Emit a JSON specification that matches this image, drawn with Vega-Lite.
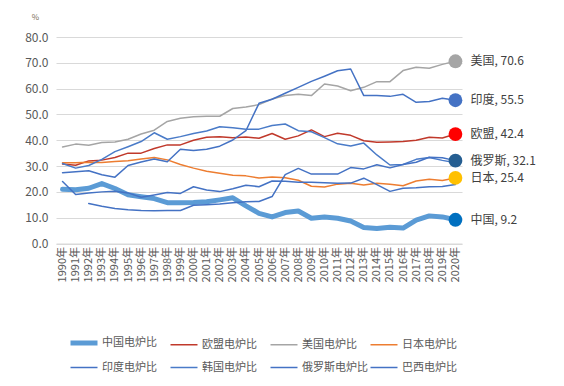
{
  "$schema": "https://vega.github.io/schema/vega-lite/v6.json",
  "autosize": {"type": "none"},
  "width": 406,
  "height": 206.5,
  "padding": {"left": 56, "top": 37, "right": 102, "bottom": 142.5},
  "background": "white",
  "config": {
    "font": "Noto Sans CJK SC",
    "view": {"stroke": null},
    "legend": {
      "labelFont": "Noto Sans CJK SC",
      "labelFontSize": 11,
      "labelColor": "#595959",
      "symbolSize": 729,
      "symbolType": "stroke",
      "labelOffset": 2,
      "columnPadding": -20,
      "rowPadding": -9,
      "gridAlign": "all",
      "columns": 4,
      "direction": "horizontal",
      "orient": "none",
      "legendX": 12,
      "legendY": 290,
      "title": null
    }
  },
  "datasets": {
    "lines": [
      {"year":"1990年","series":"中国电炉比","v":21.0},{"year":"1991年","series":"中国电炉比","v":20.8},{"year":"1992年","series":"中国电炉比","v":21.4},{"year":"1993年","series":"中国电炉比","v":23.2},{"year":"1994年","series":"中国电炉比","v":21.3},{"year":"1995年","series":"中国电炉比","v":18.9},{"year":"1996年","series":"中国电炉比","v":18.1},{"year":"1997年","series":"中国电炉比","v":17.4},{"year":"1998年","series":"中国电炉比","v":15.8},{"year":"1999年","series":"中国电炉比","v":15.8},{"year":"2000年","series":"中国电炉比","v":15.9},{"year":"2001年","series":"中国电炉比","v":16.2},{"year":"2002年","series":"中国电炉比","v":16.9},{"year":"2003年","series":"中国电炉比","v":17.7},{"year":"2004年","series":"中国电炉比","v":14.6},{"year":"2005年","series":"中国电炉比","v":11.7},{"year":"2006年","series":"中国电炉比","v":10.3},{"year":"2007年","series":"中国电炉比","v":12.0},{"year":"2008年","series":"中国电炉比","v":12.6},{"year":"2009年","series":"中国电炉比","v":9.8},{"year":"2010年","series":"中国电炉比","v":10.3},{"year":"2011年","series":"中国电炉比","v":9.8},{"year":"2012年","series":"中国电炉比","v":8.7},{"year":"2013年","series":"中国电炉比","v":6.2},{"year":"2014年","series":"中国电炉比","v":5.8},{"year":"2015年","series":"中国电炉比","v":6.3},{"year":"2016年","series":"中国电炉比","v":6.0},{"year":"2017年","series":"中国电炉比","v":9.1},{"year":"2018年","series":"中国电炉比","v":10.7},{"year":"2019年","series":"中国电炉比","v":10.3},{"year":"2020年","series":"中国电炉比","v":9.2},

      {"year":"1990年","series":"欧盟电炉比","v":30.8},{"year":"1991年","series":"欧盟电炉比","v":30.3},{"year":"1992年","series":"欧盟电炉比","v":32.0},{"year":"1993年","series":"欧盟电炉比","v":32.3},{"year":"1994年","series":"欧盟电炉比","v":33.3},{"year":"1995年","series":"欧盟电炉比","v":35.0},{"year":"1996年","series":"欧盟电炉比","v":35.0},{"year":"1997年","series":"欧盟电炉比","v":36.8},{"year":"1998年","series":"欧盟电炉比","v":38.2},{"year":"1999年","series":"欧盟电炉比","v":38.2},{"year":"2000年","series":"欧盟电炉比","v":40.0},{"year":"2001年","series":"欧盟电炉比","v":41.2},{"year":"2002年","series":"欧盟电炉比","v":41.4},{"year":"2003年","series":"欧盟电炉比","v":41.0},{"year":"2004年","series":"欧盟电炉比","v":41.3},{"year":"2005年","series":"欧盟电炉比","v":40.8},{"year":"2006年","series":"欧盟电炉比","v":42.6},{"year":"2007年","series":"欧盟电炉比","v":40.4},{"year":"2008年","series":"欧盟电炉比","v":41.7},{"year":"2009年","series":"欧盟电炉比","v":44.0},{"year":"2010年","series":"欧盟电炉比","v":41.4},{"year":"2011年","series":"欧盟电炉比","v":42.7},{"year":"2012年","series":"欧盟电炉比","v":41.9},{"year":"2013年","series":"欧盟电炉比","v":39.8},{"year":"2014年","series":"欧盟电炉比","v":39.2},{"year":"2015年","series":"欧盟电炉比","v":39.3},{"year":"2016年","series":"欧盟电炉比","v":39.5},{"year":"2017年","series":"欧盟电炉比","v":40.0},{"year":"2018年","series":"欧盟电炉比","v":41.2},{"year":"2019年","series":"欧盟电炉比","v":40.9},{"year":"2020年","series":"欧盟电炉比","v":42.4},

      {"year":"1990年","series":"美国电炉比","v":37.4},{"year":"1991年","series":"美国电炉比","v":38.5},{"year":"1992年","series":"美国电炉比","v":38.1},{"year":"1993年","series":"美国电炉比","v":39.1},{"year":"1994年","series":"美国电炉比","v":39.3},{"year":"1995年","series":"美国电炉比","v":40.4},{"year":"1996年","series":"美国电炉比","v":42.4},{"year":"1997年","series":"美国电炉比","v":43.9},{"year":"1998年","series":"美国电炉比","v":47.3},{"year":"1999年","series":"美国电炉比","v":48.5},{"year":"2000年","series":"美国电炉比","v":49.1},{"year":"2001年","series":"美国电炉比","v":49.3},{"year":"2002年","series":"美国电炉比","v":49.3},{"year":"2003年","series":"美国电炉比","v":52.3},{"year":"2004年","series":"美国电炉比","v":52.9},{"year":"2005年","series":"美国电炉比","v":53.8},{"year":"2006年","series":"美国电炉比","v":56.0},{"year":"2007年","series":"美国电炉比","v":57.3},{"year":"2008年","series":"美国电炉比","v":57.8},{"year":"2009年","series":"美国电炉比","v":57.3},{"year":"2010年","series":"美国电炉比","v":61.8},{"year":"2011年","series":"美国电炉比","v":61.0},{"year":"2012年","series":"美国电炉比","v":59.2},{"year":"2013年","series":"美国电炉比","v":60.5},{"year":"2014年","series":"美国电炉比","v":62.7},{"year":"2015年","series":"美国电炉比","v":62.7},{"year":"2016年","series":"美国电炉比","v":67.0},{"year":"2017年","series":"美国电炉比","v":68.3},{"year":"2018年","series":"美国电炉比","v":67.9},{"year":"2019年","series":"美国电炉比","v":69.4},{"year":"2020年","series":"美国电炉比","v":70.6},

      {"year":"1990年","series":"日本电炉比","v":31.3},{"year":"1991年","series":"日本电炉比","v":31.3},{"year":"1992年","series":"日本电炉比","v":31.5},{"year":"1993年","series":"日本电炉比","v":31.4},{"year":"1994年","series":"日本电炉比","v":31.8},{"year":"1995年","series":"日本电炉比","v":32.1},{"year":"1996年","series":"日本电炉比","v":32.7},{"year":"1997年","series":"日本电炉比","v":33.3},{"year":"1998年","series":"日本电炉比","v":32.4},{"year":"1999年","series":"日本电炉比","v":30.6},{"year":"2000年","series":"日本电炉比","v":29.2},{"year":"2001年","series":"日本电炉比","v":28.0},{"year":"2002年","series":"日本电炉比","v":27.2},{"year":"2003年","series":"日本电炉比","v":26.4},{"year":"2004年","series":"日本电炉比","v":26.2},{"year":"2005年","series":"日本电炉比","v":25.4},{"year":"2006年","series":"日本电炉比","v":25.8},{"year":"2007年","series":"日本电炉比","v":25.5},{"year":"2008年","series":"日本电炉比","v":24.5},{"year":"2009年","series":"日本电炉比","v":22.2},{"year":"2010年","series":"日本电炉比","v":21.9},{"year":"2011年","series":"日本电炉比","v":23.0},{"year":"2012年","series":"日本电炉比","v":23.3},{"year":"2013年","series":"日本电炉比","v":22.7},{"year":"2014年","series":"日本电炉比","v":23.3},{"year":"2015年","series":"日本电炉比","v":23.0},{"year":"2016年","series":"日本电炉比","v":22.4},{"year":"2017年","series":"日本电炉比","v":24.2},{"year":"2018年","series":"日本电炉比","v":24.9},{"year":"2019年","series":"日本电炉比","v":24.4},{"year":"2020年","series":"日本电炉比","v":25.4},

      {"year":"1990年","series":"印度电炉比","v":27.4},{"year":"1991年","series":"印度电炉比","v":27.8},{"year":"1992年","series":"印度电炉比","v":28.2},{"year":"1993年","series":"印度电炉比","v":26.6},{"year":"1994年","series":"印度电炉比","v":25.7},{"year":"1995年","series":"印度电炉比","v":30.2},{"year":"1996年","series":"印度电炉比","v":31.6},{"year":"1997年","series":"印度电炉比","v":32.7},{"year":"1998年","series":"印度电炉比","v":31.7},{"year":"1999年","series":"印度电炉比","v":36.5},{"year":"2000年","series":"印度电炉比","v":36.0},{"year":"2001年","series":"印度电炉比","v":36.5},{"year":"2002年","series":"印度电炉比","v":37.7},{"year":"2003年","series":"印度电炉比","v":40.1},{"year":"2004年","series":"印度电炉比","v":43.7},{"year":"2005年","series":"印度电炉比","v":54.3},{"year":"2006年","series":"印度电炉比","v":55.9},{"year":"2007年","series":"印度电炉比","v":58.2},{"year":"2008年","series":"印度电炉比","v":60.5},{"year":"2009年","series":"印度电炉比","v":62.8},{"year":"2010年","series":"印度电炉比","v":64.8},{"year":"2011年","series":"印度电炉比","v":66.9},{"year":"2012年","series":"印度电炉比","v":67.6},{"year":"2013年","series":"印度电炉比","v":57.3},{"year":"2014年","series":"印度电炉比","v":57.3},{"year":"2015年","series":"印度电炉比","v":57.0},{"year":"2016年","series":"印度电炉比","v":57.8},{"year":"2017年","series":"印度电炉比","v":54.7},{"year":"2018年","series":"印度电炉比","v":55.0},{"year":"2019年","series":"印度电炉比","v":56.3},{"year":"2020年","series":"印度电炉比","v":55.5},

      {"year":"1990年","series":"韩国电炉比","v":31.0},{"year":"1991年","series":"韩国电炉比","v":29.2},{"year":"1992年","series":"韩国电炉比","v":30.2},{"year":"1993年","series":"韩国电炉比","v":32.6},{"year":"1994年","series":"韩国电炉比","v":35.6},{"year":"1995年","series":"韩国电炉比","v":37.5},{"year":"1996年","series":"韩国电炉比","v":39.5},{"year":"1997年","series":"韩国电炉比","v":42.9},{"year":"1998年","series":"韩国电炉比","v":40.4},{"year":"1999年","series":"韩国电炉比","v":41.4},{"year":"2000年","series":"韩国电炉比","v":42.6},{"year":"2001年","series":"韩国电炉比","v":43.6},{"year":"2002年","series":"韩国电炉比","v":45.2},{"year":"2003年","series":"韩国电炉比","v":44.8},{"year":"2004年","series":"韩国电炉比","v":44.3},{"year":"2005年","series":"韩国电炉比","v":44.3},{"year":"2006年","series":"韩国电炉比","v":45.7},{"year":"2007年","series":"韩国电炉比","v":46.3},{"year":"2008年","series":"韩国电炉比","v":43.7},{"year":"2009年","series":"韩国电炉比","v":43.3},{"year":"2010年","series":"韩国电炉比","v":41.0},{"year":"2011年","series":"韩国电炉比","v":38.6},{"year":"2012年","series":"韩国电炉比","v":37.8},{"year":"2013年","series":"韩国电炉比","v":38.9},{"year":"2014年","series":"韩国电炉比","v":34.3},{"year":"2015年","series":"韩国电炉比","v":30.4},{"year":"2016年","series":"韩国电炉比","v":30.6},{"year":"2017年","series":"韩国电炉比","v":32.6},{"year":"2018年","series":"韩国电炉比","v":33.3},{"year":"2019年","series":"韩国电炉比","v":32.2},{"year":"2020年","series":"韩国电炉比","v":31.3},

      {"year":"1992年","series":"俄罗斯电炉比","v":15.5},{"year":"1993年","series":"俄罗斯电炉比","v":14.4},{"year":"1994年","series":"俄罗斯电炉比","v":13.6},{"year":"1995年","series":"俄罗斯电炉比","v":13.1},{"year":"1996年","series":"俄罗斯电炉比","v":12.8},{"year":"1997年","series":"俄罗斯电炉比","v":12.7},{"year":"1998年","series":"俄罗斯电炉比","v":12.8},{"year":"1999年","series":"俄罗斯电炉比","v":12.8},{"year":"2000年","series":"俄罗斯电炉比","v":14.8},{"year":"2001年","series":"俄罗斯电炉比","v":15.0},{"year":"2002年","series":"俄罗斯电炉比","v":15.3},{"year":"2003年","series":"俄罗斯电炉比","v":15.8},{"year":"2004年","series":"俄罗斯电炉比","v":16.2},{"year":"2005年","series":"俄罗斯电炉比","v":16.3},{"year":"2006年","series":"俄罗斯电炉比","v":18.2},{"year":"2007年","series":"俄罗斯电炉比","v":26.7},{"year":"2008年","series":"俄罗斯电炉比","v":29.1},{"year":"2009年","series":"俄罗斯电炉比","v":26.9},{"year":"2010年","series":"俄罗斯电炉比","v":26.9},{"year":"2011年","series":"俄罗斯电炉比","v":26.9},{"year":"2012年","series":"俄罗斯电炉比","v":29.4},{"year":"2013年","series":"俄罗斯电炉比","v":28.9},{"year":"2014年","series":"俄罗斯电炉比","v":30.5},{"year":"2015年","series":"俄罗斯电炉比","v":29.3},{"year":"2016年","series":"俄罗斯电炉比","v":30.6},{"year":"2017年","series":"俄罗斯电炉比","v":31.5},{"year":"2018年","series":"俄罗斯电炉比","v":33.4},{"year":"2019年","series":"俄罗斯电炉比","v":33.2},{"year":"2020年","series":"俄罗斯电炉比","v":32.1},

      {"year":"1990年","series":"巴西电炉比","v":24.0},{"year":"1991年","series":"巴西电炉比","v":19.0},{"year":"1992年","series":"巴西电炉比","v":19.6},{"year":"1993年","series":"巴西电炉比","v":20.0},{"year":"1994年","series":"巴西电炉比","v":20.2},{"year":"1995年","series":"巴西电炉比","v":19.6},{"year":"1996年","series":"巴西电炉比","v":17.9},{"year":"1997年","series":"巴西电炉比","v":18.8},{"year":"1998年","series":"巴西电炉比","v":19.8},{"year":"1999年","series":"巴西电炉比","v":19.4},{"year":"2000年","series":"巴西电炉比","v":22.0},{"year":"2001年","series":"巴西电炉比","v":20.7},{"year":"2002年","series":"巴西电炉比","v":20.1},{"year":"2003年","series":"巴西电炉比","v":21.2},{"year":"2004年","series":"巴西电炉比","v":22.6},{"year":"2005年","series":"巴西电炉比","v":22.0},{"year":"2006年","series":"巴西电炉比","v":24.2},{"year":"2007年","series":"巴西电炉比","v":24.1},{"year":"2008年","series":"巴西电炉比","v":23.7},{"year":"2009年","series":"巴西电炉比","v":23.7},{"year":"2010年","series":"巴西电炉比","v":23.5},{"year":"2011年","series":"巴西电炉比","v":23.3},{"year":"2012年","series":"巴西电炉比","v":23.4},{"year":"2013年","series":"巴西电炉比","v":25.3},{"year":"2014年","series":"巴西电炉比","v":22.8},{"year":"2015年","series":"巴西电炉比","v":20.2},{"year":"2016年","series":"巴西电炉比","v":21.4},{"year":"2017年","series":"巴西电炉比","v":21.6},{"year":"2018年","series":"巴西电炉比","v":22.0},{"year":"2019年","series":"巴西电炉比","v":22.1},{"year":"2020年","series":"巴西电炉比","v":22.9}
    ],
    "ends": [
      {"year":"2020年","name":"美国","v":70.6,"label":"美国, 70.6"},
      {"year":"2020年","name":"印度","v":55.5,"label":"印度, 55.5"},
      {"year":"2020年","name":"欧盟","v":42.4,"label":"欧盟, 42.4"},
      {"year":"2020年","name":"俄罗斯","v":32.1,"label":"俄罗斯, 32.1"},
      {"year":"2020年","name":"日本","v":25.4,"label":"日本, 25.4"},
      {"year":"2020年","name":"中国","v":9.2,"label":"中国, 9.2"}
    ]
  },
  "encoding": {
    "x": {
      "field": "year",
      "type": "ordinal",
      "scale": {"type": "point", "padding": 0.5},
      "axis": {
        "title": null,
        "labelAngle": 270,
        "labelFont": "Noto Sans CJK SC",
        "labelFontSize": 11,
        "labelColor": "#595959",
        "labelPadding": 3,
        "ticks": false,
        "domain": true,
        "domainColor": "#d9d9d9",
        "domainWidth": 1,
        "grid": false
      }
    },
    "y": {
      "field": "v",
      "type": "quantitative",
      "scale": {"domain": [0, 80], "nice": false, "zero": true},
      "axis": {
        "title": "%",
        "titleAngle": 0,
        "titleFontSize": 8,
        "titleFontWeight": "normal",
        "titleColor": "#7a6f56",
        "titleX": -21,
        "titleY": -16,
        "titleAlign": "center",
        "values": [0, 10, 20, 30, 40, 50, 60, 70, 80],
        "format": ".1f",
        "labelFont": "Noto Sans CJK SC",
        "labelFontSize": 12,
        "labelColor": "#595959",
        "labelPadding": 8,
        "ticks": false,
        "domain": false,
        "grid": true,
        "gridColor": "#d9d9d9",
        "gridWidth": 1
      }
    }
  },
  "layer": [
    {
      "data": {"name": "lines"},
      "mark": {"type": "line", "strokeCap": "round", "strokeJoin": "round"},
      "encoding": {
        "color": {
          "field": "series",
          "type": "nominal",
          "scale": {
            "domain": ["中国电炉比","欧盟电炉比","美国电炉比","日本电炉比","印度电炉比","韩国电炉比","俄罗斯电炉比","巴西电炉比"],
            "range": ["#5b9bd5","#c0392b","#a5a5a5","#ed7d31","#4472c4","#4a7bc8","#4472c4","#4472c4"]
          }
        },
        "strokeWidth": {
          "field": "series",
          "type": "nominal",
          "scale": {
            "type": "ordinal",
            "domain": ["中国电炉比","欧盟电炉比","美国电炉比","日本电炉比","印度电炉比","韩国电炉比","俄罗斯电炉比","巴西电炉比"],
            "range": [5, 1.5, 1.5, 1.5, 1.5, 1.5, 1.5, 1.5]
          }
        }
      }
    },
    {
      "data": {"name": "ends"},
      "mark": {"type": "point", "shape": "circle", "filled": true, "size": 190, "opacity": 1},
      "encoding": {
        "fill": {
          "field": "name",
          "type": "nominal",
          "legend": null,
          "scale": {
            "domain": ["美国","印度","欧盟","俄罗斯","日本","中国"],
            "range": ["#a5a5a5","#4472c4","#ff0000","#255e91","#ffc000","#0070c0"]
          }
        }
      }
    },
    {
      "data": {"name": "ends"},
      "mark": {"type": "text", "align": "left", "baseline": "middle", "dx": 15, "fontSize": 12, "font": "Noto Sans CJK SC", "color": "#404040"},
      "encoding": {
        "text": {"field": "label"}
      }
    }
  ]
}
